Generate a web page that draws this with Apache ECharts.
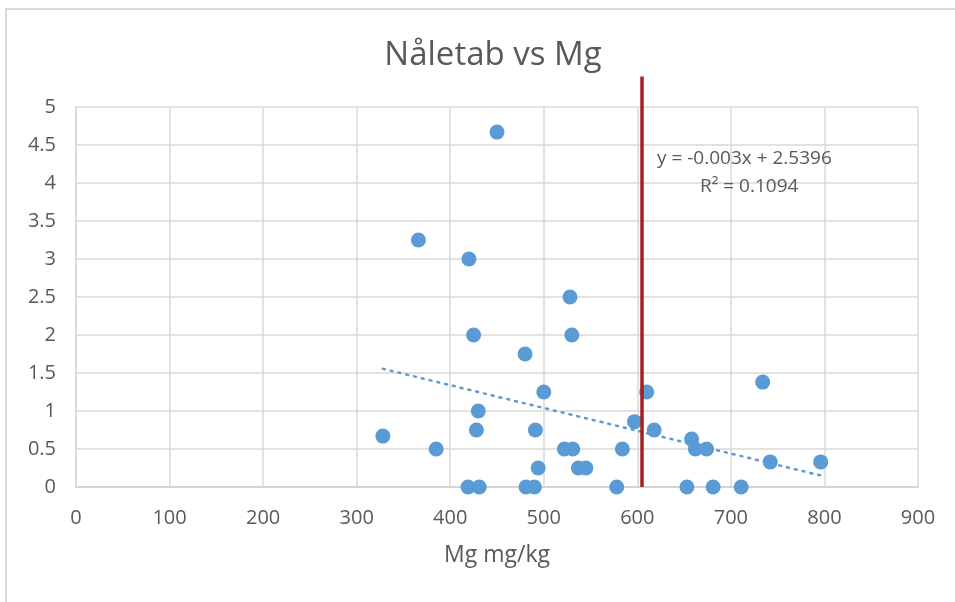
<!DOCTYPE html>
<html>
<head>
<meta charset="utf-8">
<script src="https://cdn.jsdelivr.net/npm/echarts@6/dist/echarts.min.js"></script>
<style>html,body{margin:0;padding:0;background:#fff}#c{width:955px;height:602px}</style>
</head>
<body>
<div id="c"></div>
<script>
// Data
const mgValues = [450, 366, 420, 528, 425, 530, 480, 500, 430, 328, 428, 491, 385, 522, 531, 584, 494, 537, 545, 419, 431, 481, 490, 578, 597, 610, 618, 658, 662, 674, 653, 681, 711, 734, 742, 796];
const naletabValues = [4.67, 3.25, 3, 2.5, 2, 2, 1.75, 1.25, 1, 0.67, 0.75, 0.75, 0.5, 0.5, 0.5, 0.5, 0.25, 0.25, 0.25, 0, 0, 0, 0, 0, 0.86, 1.25, 0.75, 0.63, 0.5, 0.5, 0, 0, 0, 1.38, 0.33, 0.33];
const trendSlope = -0.003;
const trendIntercept = 2.5396;
const trendRangeX = [328, 796];
const thresholdX = [605, 605];
const thresholdY = [0, 5.4];
const xTicks = [0, 100, 200, 300, 400, 500, 600, 700, 800, 900];
const yTicks = [0, 0.5, 1, 1.5, 2, 2.5, 3, 3.5, 4, 4.5, 5];
const titleText = 'Nåletab vs Mg';
const xAxisName = 'Mg mg/kg';
const eqText = 'y = -0.003x + 2.5396';
const r2Text = 'R² = 0.1094';

const points = mgValues.map((x, i) => [x, naletabValues[i]]);
const trend = trendRangeX.map(x => [x, trendSlope * x + trendIntercept]);
const threshold = thresholdX.map((x, i) => [x, thresholdY[i]]);

const font = 'Open Sans, Noto Sans, sans-serif';
const chart = echarts.init(document.getElementById('c'), null, {renderer: 'canvas'});
chart.setOption({
  animation: false,
  backgroundColor: '#fff',
  title: {
    text: titleText, left: 488, top: 34, textAlign: 'center',
    textStyle: {fontFamily: font, fontSize: 33, fontWeight: 'normal', color: '#595959'}
  },
  graphic: [
    {type: 'rect', shape: {x: 6, y: 9, width: 980, height: 620}, style: {fill: 'none', stroke: '#d9d9d9', lineWidth: 2}, silent: true, z: 0},
    {type: 'text', left: 657, top: 149, style: {text: eqText, font: '19px ' + font, fill: '#595959'}, z: 10},
    {type: 'text', left: 700, top: 177, style: {text: r2Text, font: '19px ' + font, fill: '#595959'}, z: 10}
  ],
  grid: {left: 76, right: 37, top: 107, bottom: 115, containLabel: false},
  xAxis: {
    type: 'value', min: 0, max: 900, interval: 100,
    name: xAxisName, nameLocation: 'middle', nameGap: 57,
    nameTextStyle: {fontFamily: font, fontSize: 23, color: '#595959'},
    axisLine: {show: true, lineStyle: {color: '#d0d0d0', width: 1.5}},
    axisTick: {show: false},
    axisLabel: {fontFamily: font, fontSize: 20, color: '#595959', margin: 21},
    splitLine: {show: true, lineStyle: {color: '#d9d9d9', width: 1.5}}
  },
  yAxis: {
    type: 'value', min: 0, max: 5, interval: 0.5,
    axisLine: {show: true, lineStyle: {color: '#d9d9d9', width: 1.5}},
    axisTick: {show: false},
    axisLabel: {fontFamily: font, fontSize: 20, color: '#595959', margin: 20},
    splitLine: {show: true, lineStyle: {color: '#d9d9d9', width: 1.5}}
  },
  series: [
    {
      type: 'line', data: trend, symbol: 'none', z: 3,
      lineStyle: {color: '#5b9bd5', width: 2.5, type: [2, 6], cap: 'round'}
    },
    {
      type: 'scatter', data: points, symbol: 'circle', symbolSize: 15, z: 4,
      itemStyle: {color: '#5b9bd5', opacity: 1}
    },
    {
      type: 'line', data: threshold, symbol: 'none', clip: false, z: 5,
      lineStyle: {color: '#a51f1f', width: 3.5}
    }
  ]
});
</script>
</body>
</html>
